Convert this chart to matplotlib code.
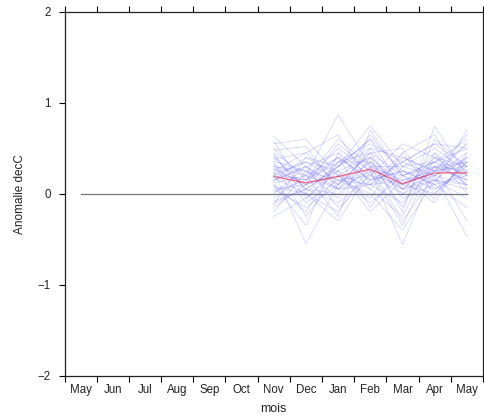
import numpy as np
import matplotlib
matplotlib.use("Agg")
import matplotlib.pyplot as plt

plt.rcParams["font.family"] = ["Liberation Sans", "DejaVu Sans"]

months = ["May", "Jun", "Jul", "Aug", "Sep", "Oct", "Nov",
          "Dec", "Jan", "Feb", "Mar", "Apr", "May"]
fcst_start = 6      # forecasts run Nov -> May

# ensemble members, anomalies (degC), Nov..May
members = [
    [0.63, 0.30, 0.10, 0.45, 0.20, 0.35, 0.50],
    [0.55, 0.60, 0.20, 0.10, -0.10, 0.30, 0.25],
    [0.45, 0.20, 0.87, 0.30, 0.05, 0.15, 0.40],
    [0.40, 0.05, 0.30, 0.75, 0.30, 0.20, 0.10],
    [0.35, -0.10, 0.15, 0.20, 0.55, 0.40, 0.30],
    [0.30, 0.25, -0.05, 0.40, -0.20, 0.74, 0.20],
    [0.28, 0.10, 0.40, 0.15, 0.25, 0.10, 0.70],
    [0.25, -0.55, 0.10, 0.35, 0.10, 0.45, 0.00],
    [0.22, 0.35, 0.25, 0.05, 0.40, 0.25, 0.35],
    [0.20, 0.15, 0.50, 0.25, -0.56, 0.30, 0.15],
    [0.18, 0.00, -0.20, 0.30, 0.15, -0.10, 0.45],
    [0.15, 0.40, 0.30, 0.60, 0.05, 0.20, -0.47],
    [0.12, 0.20, 0.05, 0.10, 0.35, 0.55, 0.30],
    [0.10, -0.20, 0.35, 0.45, -0.05, 0.10, 0.20],
    [0.05, 0.10, 0.20, -0.10, 0.20, 0.35, 0.60],
    [0.00, 0.30, 0.45, 0.20, 0.00, 0.15, 0.05],
    [-0.10, 0.05, 0.00, 0.30, 0.30, 0.50, 0.25],
    [-0.20, 0.25, 0.15, 0.10, 0.45, 0.00, 0.35],
    [-0.25, -0.05, 0.30, 0.50, 0.10, 0.30, 0.15],
    [0.50, 0.15, 0.60, 0.30, -0.30, 0.20, 0.40],
    [0.38, 0.45, 0.10, 0.65, 0.20, 0.05, 0.25],
    [0.08, 0.00, -0.30, 0.25, 0.05, 0.40, 0.10],
    [0.27, 0.10, 0.25, -0.20, 0.15, 0.25, 0.55],
    [0.15, 0.30, 0.05, 0.35, -0.15, 0.60, 0.30],
    [-0.05, 0.20, 0.40, 0.15, 0.25, 0.10, -0.15],
    [0.33, -0.25, 0.20, 0.40, 0.05, 0.35, 0.20],
    [0.02, 0.15, 0.35, 0.55, 0.35, 0.20, 0.45],
    [0.42, 0.05, -0.10, 0.20, 0.10, 0.25, 0.30],
    [0.20, 0.35, 0.15, 0.00, -0.40, 0.15, 0.10],
    [-0.15, 0.10, 0.55, 0.25, 0.20, 0.30, 0.35],
    [0.48, 0.52, 0.05, 0.50, 0.40, 0.25, 0.65],
    [0.10, -0.35, 0.45, 0.05, -0.25, 0.45, 0.15],
    [0.30, 0.20, -0.25, 0.70, 0.20, -0.05, 0.40],
    [-0.12, 0.40, 0.20, -0.05, 0.45, 0.65, 0.05],
    [0.58, 0.00, 0.35, 0.35, 0.00, 0.30, -0.30],
    [0.25, 0.45, 0.65, 0.10, 0.15, 0.20, 0.55],
    [0.05, -0.15, 0.10, 0.45, 0.50, 0.05, 0.30],
    [0.36, 0.25, 0.05, 0.25, -0.35, 0.40, 0.20],
    [-0.08, 0.05, 0.30, 0.60, 0.25, 0.15, -0.05],
    [0.14, 0.30, -0.15, 0.15, 0.35, 0.55, 0.50],
    [0.44, -0.05, 0.25, 0.40, 0.10, 0.00, 0.35],
    [0.22, 0.15, 0.40, -0.15, 0.30, 0.35, 0.10],
]
ens_mean = [0.19, 0.12, 0.19, 0.27, 0.11, 0.23, 0.23]

x_all = np.arange(len(months)) + 0.5
x_fc = x_all[fcst_start:]

fig = plt.figure(figsize=(4.84, 4.2), dpi=100)
ax = fig.add_axes([64.5 / 484, 1 - 375.5 / 420, (483 - 64.5) / 484, (375.5 - 12) / 420])

ax.plot([x_all[0], x_all[-1]], [0, 0], color="#777777", lw=0.9, zorder=1)
for m in members:
    ax.plot(x_fc, m, color=(0.4, 0.4, 1.0), alpha=0.28, lw=0.6, zorder=2)
ax.plot(x_fc, ens_mean, color=(0.95, 0.2, 0.3), alpha=0.75, lw=0.9, zorder=3)

ax.set_xlim(0, len(months))
ax.set_ylim(-2, 2)
ax.set_xticks(np.arange(len(months) + 1))
ax.set_xticklabels([])
ax.set_xticks(x_all, minor=True)
ax.set_xticklabels(months, minor=True, fontsize=8.3, color="#222222")
ax.tick_params(axis="x", which="minor", length=0, pad=6)
ax.tick_params(axis="x", which="major", top=True, direction="out", length=4, width=0.8)
ax.set_yticks([-2, -1, 0, 1, 2])
ax.set_yticklabels(["\u22122", "\u22121", "0", "1", "2"], color="#222222")
ax.tick_params(axis="y", direction="out", length=4, width=0.8, labelsize=8.3, pad=6)
for s in ax.spines.values():
    s.set_linewidth(0.9)
    s.set_color("#222222")

ax.set_xlabel("mois", fontsize=9, labelpad=5, color="#222222")
ax.set_ylabel("Anomalie decC", fontsize=8.5, labelpad=8, color="#222222")

fig.savefig("out.png", dpi=100)
